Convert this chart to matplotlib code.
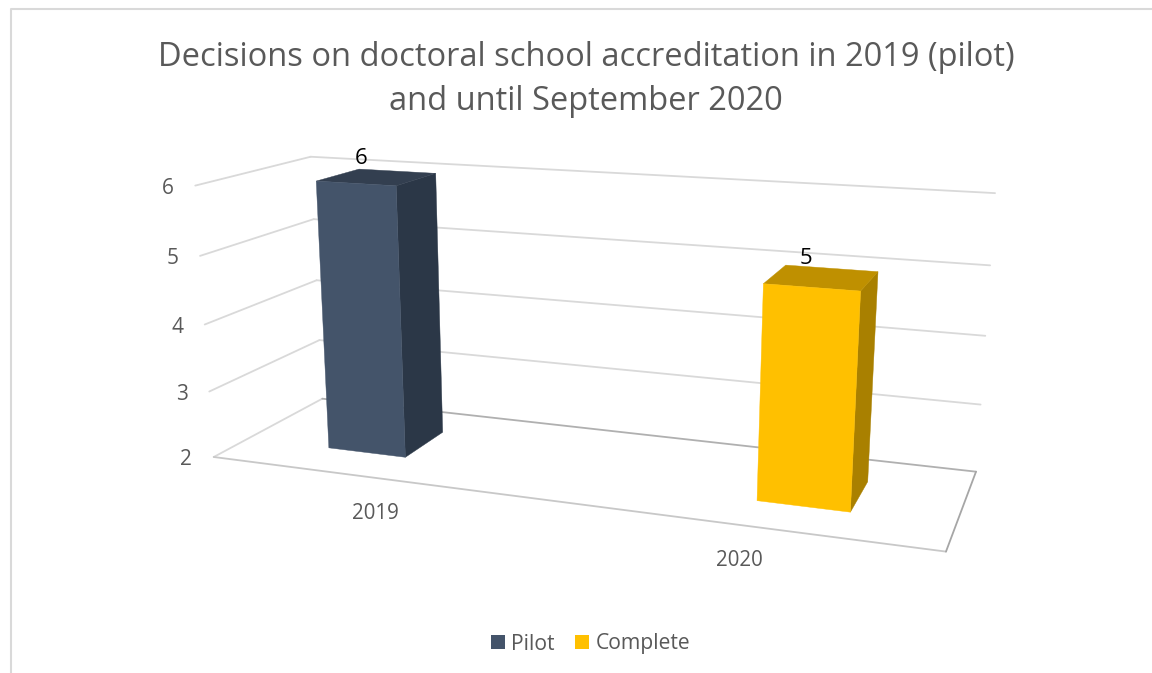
import matplotlib
matplotlib.use("Agg")
import matplotlib.pyplot as plt
import numpy as np
from matplotlib.patches import Patch, Polygon

TITLE = "Decisions on doctoral school accreditation in 2019 (pilot)\nand until September 2020"
CATEGORIES = ["2019", "2020"]
SERIES = ["Pilot", "Complete"]
PILOT = [6, None]
COMPLETE = [None, 5]
VALUE_TICKS = [2, 3, 4, 5, 6]

# colours per series: front, side, top
BAR_COLORS = [("#44546A", "#2B3747", "#333F50"), ("#FFC000", "#A98000", "#BF9000")]
GRID = "#D9D9D9"
TEXT = "#595959"

# clustered bars: each category slot holds one bar per series, side by side
BAR_WIDTH = 0.24
DEPTH_FRONT, DEPTH_BACK = 0.3, 0.7

# where the corners of the 3D box sit in the picture: (category, value, depth), (px, py)
CAMERA_POINTS = [
    ((0, 6, 0), (195, 185)), ((0, 5, 0), (200, 256)), ((0, 4, 0), (205, 325)),
    ((0, 3, 0), (209, 392)), ((0, 2, 0), (214, 457)),
    ((0, 6, 1), (311, 157)), ((0, 2, 1), (322, 398)),
    ((2, 6, 1), (995, 193)), ((2, 5, 1), (990, 265)), ((2, 4, 1), (985, 336)),
    ((2, 3, 1), (981, 405)), ((2, 2, 1), (976, 472)),
    ((2, 2, 0), (946, 551)),
]


def fit_camera(points):
    rows, rhs = [], []
    for (x, y, z), (u, v) in points:
        rows.append([x, y, z, 1, 0, 0, 0, 0, -u * x, -u * y, -u * z])
        rows.append([0, 0, 0, 0, x, y, z, 1, -v * x, -v * y, -v * z])
        rhs += [u, v]
    sol = np.linalg.lstsq(np.array(rows, float), np.array(rhs, float), rcond=None)[0]
    return np.append(sol, 1.0).reshape(3, 4)


CAMERA = fit_camera(CAMERA_POINTS)


def project(x, y, z):
    p = CAMERA @ np.array([x, y, z, 1.0])
    return p[0] / p[2], p[1] / p[2]


def draw_line(ax, a, b, color=GRID, lw=1.3):
    pa, pb = project(*a), project(*b)
    ax.plot([pa[0], pb[0]], [pa[1], pb[1]], color=color, lw=lw, zorder=1,
            solid_capstyle="round")


def draw_bar(ax, x0, value, colors):
    x1 = x0 + BAR_WIDTH
    z0, z1 = DEPTH_FRONT, DEPTH_BACK
    low = VALUE_TICKS[0]
    front = [(x0, low, z0), (x1, low, z0), (x1, value, z0), (x0, value, z0)]
    side = [(x1, low, z0), (x1, low, z1), (x1, value, z1), (x1, value, z0)]
    top = [(x0, value, z0), (x1, value, z0), (x1, value, z1), (x0, value, z1)]
    for face, color in zip([side, top, front], [colors[1], colors[2], colors[0]]):
        ax.add_patch(Polygon([project(*c) for c in face], closed=True, facecolor=color,
                             edgecolor=color, lw=0.3, zorder=3))

    px, py = project(x0 + BAR_WIDTH / 2, value, (z0 + z1) / 2)
    ax.text(px - 16, py - 19, str(value), ha="center", va="center", fontsize=16,
            color="black", zorder=4)


def main() -> None:
    plt.rcParams["font.family"] = ["Open Sans", "DejaVu Sans"]

    fig = plt.figure(figsize=[11.52, 6.73], dpi=100)
    ax = fig.add_axes([0, 0, 1, 1])
    ax.set_xlim(0, 1152)
    ax.set_ylim(673, 0)
    ax.axis("off")

    # chart frame, cut off at the right and at the bottom of the picture
    ax.plot([10.5, 10.5, 1152], [673, 8.5, 8.5], color=GRID, lw=1.5)

    ax.text(586, 79.5, TITLE, ha="center", va="center", fontsize=23.5, color=TEXT,
            linespacing=1.44)

    low = VALUE_TICKS[0]
    for v in VALUE_TICKS:
        draw_line(ax, (0, v, 0), (0, v, 1))
        if v != low:
            draw_line(ax, (0, v, 1), (2, v, 1))
        px, py = project(0, v, 0)
        ax.text(px - 27.5, py + 2.5, str(v), ha="center", va="center", fontsize=15, color=TEXT)

    draw_line(ax, (0, low, 1), (2, low, 1), color="#B0B0B0")
    draw_line(ax, (0, low, 0), (2, low, 0), color="#C8C8C8")
    draw_line(ax, (2, low, 0), (2, low, 1), color="#A6A6A6")

    for i, cat in enumerate(CATEGORIES):
        center = i + 0.5
        if PILOT[i] is not None:
            draw_bar(ax, center - BAR_WIDTH, PILOT[i], BAR_COLORS[0])
        if COMPLETE[i] is not None:
            draw_bar(ax, center, COMPLETE[i], BAR_COLORS[1])
        px, py = project(center, low, 0)
        ax.text(px + 0.5, py + 36, cat, ha="center", va="center", fontsize=14.8, color=TEXT)

    handles = [Patch(facecolor=c[0], label=s) for c, s in zip(BAR_COLORS, SERIES)]
    ax.legend(handles=handles, loc="center", bbox_to_anchor=(590.5, 644),
              bbox_transform=ax.transData, ncol=2, frameon=False, fontsize=15.2,
              labelcolor=TEXT, handlelength=0.65, handleheight=0.65,
              handletextpad=0.3, columnspacing=1.0)

    fig.savefig("out.png", dpi=100)


if __name__ == "__main__":
    main()
